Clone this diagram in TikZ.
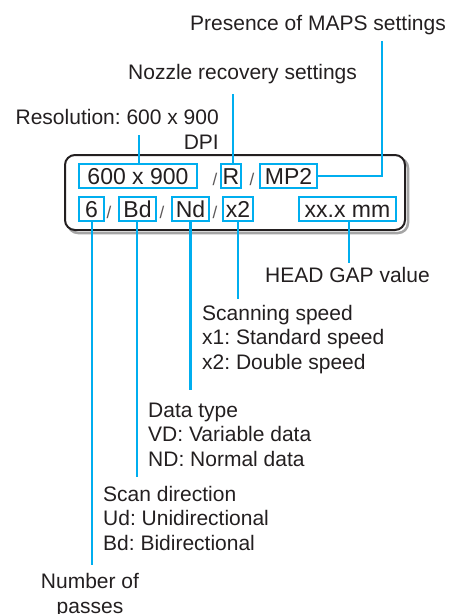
\documentclass[tikz,border=0pt]{standalone}
\usepackage{fontspec}
\setmainfont{Liberation Sans}
\usepackage{xcolor}
\usepackage{tikz}

\definecolor{guidecyan}{RGB}{0,174,239}
\definecolor{inktext}{RGB}{35,31,32}
\definecolor{shadowgrey}{RGB}{165,165,165}

\tikzset{
  field/.style={draw=guidecyan, line width=2pt, inner sep=0pt, minimum height=24pt,
    text height=16.5pt, text depth=0pt, text=inktext, font=\fontsize{23}{27}\selectfont},
  lead/.style={draw=guidecyan, line width=2.2pt},
  caption/.style={inner sep=0pt, text=inktext, align=left, anchor=base west,
    font=\fontsize{21}{24.5}\selectfont},
  slashmark/.style={inner sep=0pt, anchor=base, text=inktext!75, font=\fontsize{17}{17}\selectfont}
}

\begin{document}
\frenchspacing
\begin{tikzpicture}[x=1pt,y=-1pt]
\useasboundingbox (0,0) rectangle (450,614);

% display frame
\draw[shadowgrey, line width=2.5pt, rounded corners=10pt] (68,158) rectangle (408,233);
\draw[inktext, fill=white, line width=2pt, rounded corners=10pt] (65,155) rectangle (405,230);

% upper row
\node[field, minimum width=118pt] (res) at (138,176) {600 x 900};
\node[field, minimum width=20pt] (rec) at (231,176) {R};
\node[field, minimum width=57pt] (maps) at (288.5,176) {MP2};
\node[slashmark] (s1) at (215,185) {/};
\node[slashmark] (s2) at (252,185) {/};

% lower row
\node[field, minimum width=25pt] (pass) at (91.5,209) {6};
\node[field, minimum width=37pt] (dir) at (137.5,209) {Bd};
\node[field, minimum width=37pt] (data) at (190.5,209) {Nd};
\node[field, minimum width=30pt] (speed) at (238,209) {x2};
\node[field, minimum width=97pt] (gap) at (347.5,209) {xx.x mm};
\node[slashmark] (s3) at (109,218) {/};
\node[slashmark] (s4) at (162,218) {/};
\node[slashmark] (s5) at (215,218) {/};

% captions (base = last line)
\node[caption] (mapslbl) at (190,30) {Presence of MAPS settings};
\node[caption] (reclbl) at (128,79) {Nozzle recovery settings};
\node[caption, align=right, anchor=base east] (reslbl) at (219,149) {Resolution: 600 x 900\\DPI};
\node[caption] (gaplbl) at (265,282) {HEAD GAP value};
\node[caption] (speedlbl) at (202,369) {Scanning speed\\x1: Standard speed\\x2: Double speed};
\node[caption] (datalbl) at (148,466) {Data type\\VD: Variable data\\ND: Normal data};
\node[caption] (dirlbl) at (103,550) {Scan direction\\Ud: Unidirectional\\Bd: Bidirectional};
\node[caption, align=center, anchor=base] (passlbl) at (90,613) {Number of\\passes};

% lead ends
\coordinate (resend) at (139,135);
\coordinate (recend) at (233,94);
\coordinate (mapsend) at (382,41);
\coordinate (gapend) at (349,263);
\coordinate (speedend) at (238,299);
\coordinate (dataend) at (190.5,390);
\coordinate (dirend) at (137,477);
\coordinate (passend) at (92,565);

% leads
\draw[lead] (res.north -| resend) -- (resend);
\draw[lead] (rec.north -| recend) -- (recend);
\draw[lead] (maps.east) -| (mapsend);
\draw[lead] (gap.south -| gapend) -- (gapend);
\draw[lead] (speed.south) -- (speedend);
\draw[lead] (data.south) -- (dataend);
\draw[lead] (dir.south -| dirend) -- (dirend);
\draw[lead] (pass.south -| passend) -- (passend);
\end{tikzpicture}
\end{document}
